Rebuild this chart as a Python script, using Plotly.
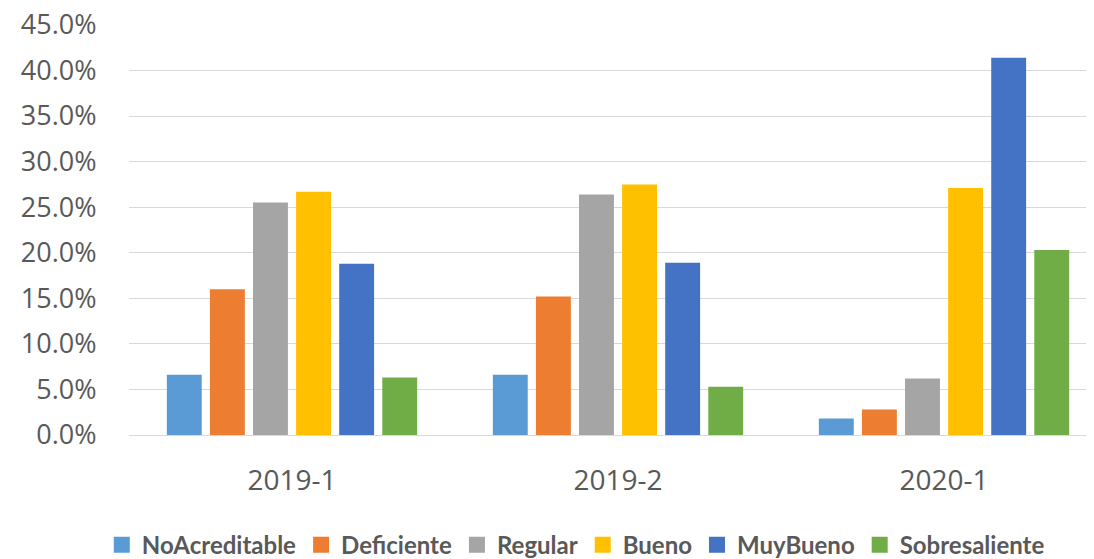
import plotly.graph_objects as go

categories = ["2019-1", "2019-2", "2020-1"]
series_names = ["NoAcreditable", "Deficiente", "Regular", "Bueno", "MuyBueno", "Sobresaliente"]
no_acreditable = [6.6, 6.6, 1.8]
deficiente = [16.0, 15.2, 2.8]
regular = [25.5, 26.4, 6.2]
bueno = [26.7, 27.5, 27.1]
muy_bueno = [18.8, 18.9, 41.4]
sobresaliente = [6.3, 5.3, 20.3]
colors = ["#5B9BD5", "#ED7D31", "#A5A5A5", "#FFC000", "#4472C4", "#70AD47"]
y_ticks = [0, 5, 10, 15, 20, 25, 30, 35, 40, 45]

values = [no_acreditable, deficiente, regular, bueno, muy_bueno, sobresaliente]

fig = go.Figure()
for name, vals, col in zip(series_names, values, colors):
    fig.add_trace(go.Bar(x=categories, y=vals, name=name, marker_color=col,
                         marker_line_width=0, legendgroup=name, showlegend=False))
    # legend entry with a larger square swatch
    fig.add_trace(go.Scatter(x=[None], y=[None], mode="markers", name=name,
                             legendgroup=name, showlegend=True,
                             marker=dict(symbol="square", size=16, color=col,
                                         line_width=0)))

tick_family = "'Open Sans', Lato, sans-serif"
fig.update_layout(
    width=1094, height=559,
    margin=dict(l=121, r=8, t=16, b=132, autoexpand=False),
    paper_bgcolor="white", plot_bgcolor="white",
    barmode="group", bargap=0.207, bargroupgap=0.19,
    font=dict(family=tick_family, color="#595959", size=22),
    showlegend=True,
    legend=dict(orientation="h", x=0.463, xanchor="center",
                y=-0.268, yanchor="middle",
                font=dict(family="Lato, sans-serif", size=24, color="#595959",
                          weight="bold"),
                itemwidth=30),
    xaxis=dict(type="category", range=[-0.5, 2.46], showgrid=False, showline=False,
               zeroline=False, ticks="outside", ticklen=20, tickcolor="rgba(0,0,0,0)",
               tickfont=dict(size=28)),
    yaxis=dict(range=[0, 45.1], tickvals=y_ticks,
               ticktext=[f"{v:.1f}%" for v in y_ticks],
               showgrid=True, gridcolor="#D9D9D9", gridwidth=1.3,
               zeroline=True, zerolinecolor="#D9D9D9", zerolinewidth=1.3,
               showline=False, ticks="outside", ticklen=26, ticklabeloverflow="allow",
               tickcolor="rgba(0,0,0,0)", tickfont=dict(size=27)),
)

fig.write_html("out.html")
